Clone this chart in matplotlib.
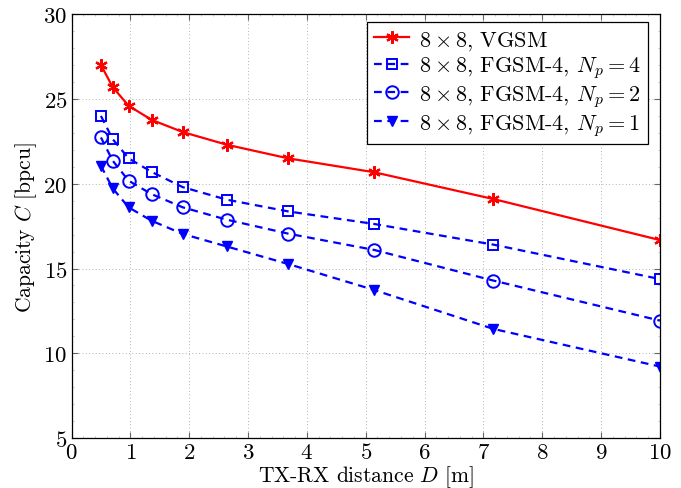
import matplotlib
matplotlib.use("Agg")
import matplotlib.pyplot as plt
from matplotlib.ticker import AutoMinorLocator

plt.rcParams['font.family'] = 'serif'
plt.rcParams['font.serif'] = ['cmr10', 'DejaVu Serif']
plt.rcParams['mathtext.fontset'] = 'cm'
plt.rcParams['axes.formatter.use_mathtext'] = True

# distances (m)
dist = [0.5, 0.70, 0.97, 1.36, 1.89, 2.64, 3.68, 5.14, 7.17, 10.0]

# capacities (bpcu)
vgsm = [27.0, 25.7, 24.6, 23.77, 23.05, 22.3, 21.5, 20.68, 19.1, 16.68]
fgsm_np4 = [24.0, 22.63, 21.5, 20.7, 19.8, 19.06, 18.37, 17.63, 16.41, 14.38]
fgsm_np2 = [22.73, 21.36, 20.18, 19.39, 18.61, 17.88, 17.06, 16.1, 14.29, 11.93]
fgsm_np1 = [21.06, 19.73, 18.61, 17.82, 17.04, 16.3, 15.27, 13.74, 11.44, 9.22]

labels = [r'$8\times8$, VGSM',
          r'$8\times8$, FGSM-4, $N_p=4$',
          r'$8\times8$, FGSM-4, $N_p=2$',
          r'$8\times8$, FGSM-4, $N_p=1$']

fig = plt.figure(figsize=(6.81, 4.89), dpi=100)
ax = fig.add_axes([0.105, 0.102, 0.864, 0.867])

dash = (0, (3.5, 2.5))
ax.plot(dist, vgsm, color='red', lw=1.6, marker=(6, 2, 0), ms=9, mew=1.6,
        label=labels[0])
ax.plot(dist, fgsm_np4, color='blue', lw=1.6, ls=dash, marker='s', ms=7,
        mfc='none', mew=1.4, label=labels[1])
ax.plot(dist, fgsm_np2, color='blue', lw=1.6, ls=dash, marker='o', ms=9,
        mfc='none', mew=1.4, label=labels[2])
ax.plot(dist, fgsm_np1, color='blue', lw=1.6, ls=dash, marker='v', ms=7,
        mew=1.0, label=labels[3])

ax.set_xlim(0, 10)
ax.set_ylim(5, 30)
ax.set_xticks(range(0, 11))
ax.set_yticks([5, 10, 15, 20, 25, 30])
ax.xaxis.set_minor_locator(AutoMinorLocator(5))
ax.yaxis.set_minor_locator(AutoMinorLocator(5))
ax.tick_params(which='major', direction='in', length=4, width=0.8, color='0.4',
               top=True, right=True, labelsize=16.5, pad=3)
ax.tick_params(which='minor', direction='in', length=1.5, width=0.4, color='0.6',
               top=True, right=True)
ax.grid(True, which='major', ls=(0, (1, 3)), color='0.6', lw=0.6)

for s in ax.spines.values():
    s.set_linewidth(0.9)

ax.set_xlabel(r'TX-RX distance $D$ [m]', fontsize=15.5, labelpad=1)
ax.set_ylabel(r'Capacity $C$ [bpcu]', fontsize=15.5, labelpad=3)

leg = ax.legend(loc='upper right', fontsize=16, handlelength=1.6,
                handletextpad=0.45, borderpad=0.3, labelspacing=0.12,
                borderaxespad=0, fancybox=False, edgecolor='black',
                framealpha=1, bbox_to_anchor=(0.98, 0.981))
leg.get_frame().set_linewidth(0.9)

fig.savefig('out.png', dpi=100)
